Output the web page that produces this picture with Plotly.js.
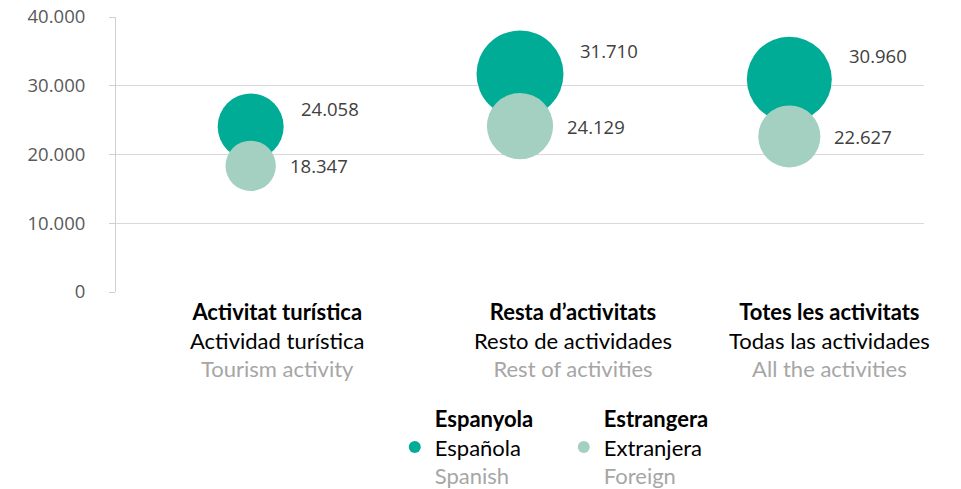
<!DOCTYPE html>
<html>
<head>
<meta charset="utf-8">
<script src="https://cdn.plot.ly/plotly-3.0.1.min.js"></script>
<style>
  html, body { margin: 0; padding: 0; background: #fff; }
  #chart { width: 961px; height: 489px; }
</style>
</head>
<body>
<div id="chart"></div>
<script>
// categories, three languages
var catCa = ["Activitat turística", "Resta d\u2019activitats", "Totes les activitats"];
var catEs = ["Actividad turística", "Resto de actividades", "Todas las actividades"];
var catEn = ["Tourism activity", "Rest of activities", "All the activities"];

// series
var spanish = [24058, 31710, 30960];
var foreign = [18347, 24129, 22627];

var seriesCa = ["Espanyola", "Estrangera"];
var seriesEs = ["Española", "Extranjera"];
var seriesEn = ["Spanish", "Foreign"];

var yTicks = [0, 10000, 20000, 30000, 40000];

// styling
var DARK = "rgb(0,172,150)";
var LIGHT = "rgb(164,208,193)";
var SIZEREF = 364.5;           // px diameter = value / SIZEREF
var labelShift = [26, 53, 40]; // category label offsets, px
var txtFont = "Lato, 'Noto Sans', sans-serif";
var numFont = "'Open Sans', 'Noto Sans', sans-serif";

function fmt(v) {
    return String(v).replace(/\B(?=(\d{3})+(?!\d))/g, ".");
}

function threeLines(a, b, c) {
    return '<b>' + a + '</b><br>' + b + '<br><span style="color:#a6a6a6">' + c + '</span>';
}

var xs = catCa.map(function (d, i) { return i; });

var traces = [
    {
        x: xs, y: spanish, type: 'scatter', mode: 'markers',
        name: threeLines(seriesCa[0], seriesEs[0], seriesEn[0]),
        marker: { size: spanish, sizemode: 'diameter', sizeref: SIZEREF, color: DARK, opacity: 1, line: { width: 0 } },
        hoverinfo: 'skip'
    },
    {
        x: xs, y: foreign, type: 'scatter', mode: 'markers',
        name: threeLines(seriesCa[1], seriesEs[1], seriesEn[1]),
        marker: { size: foreign, sizemode: 'diameter', sizeref: SIZEREF, color: LIGHT, opacity: 1, line: { width: 0 } },
        hoverinfo: 'skip'
    }
];

var annotations = [];

// value labels
spanish.forEach(function (v, i) {
    var r = v / SIZEREF / 2;
    annotations.push({
        x: i, y: v, xref: 'x', yref: 'y', text: fmt(v), showarrow: false,
        xanchor: 'left', yanchor: 'middle', xshift: r + 15, yshift: r * 0.55,
        font: { family: numFont, size: 18.5, color: '#404040' }
    });
});
foreign.forEach(function (v, i) {
    var r = v / SIZEREF / 2;
    annotations.push({
        x: i, y: v, xref: 'x', yref: 'y', text: fmt(v), showarrow: false,
        xanchor: 'left', yanchor: 'middle', xshift: r + 12, yshift: 0,
        font: { family: numFont, size: 18.5, color: '#404040' }
    });
});

// category labels
catCa.forEach(function (c, i) {
    annotations.push({
        x: i, y: 0, xref: 'x', yref: 'paper', showarrow: false,
        text: threeLines(c, catEs[i], catEn[i]),
        xanchor: 'center', yanchor: 'middle', xshift: labelShift[i], yshift: -48,
        font: { family: txtFont, size: 22, color: '#000' }
    });
});

var layout = {
    width: 961, height: 489,
    margin: { l: 116, r: 37, t: 17, b: 197, autoexpand: false },
    paper_bgcolor: '#fff', plot_bgcolor: '#fff',
    separators: ',.',
    showlegend: true,
    legend: {
        orientation: 'h', x: 0.345, xanchor: 'left',
        yref: 'container', y: 0.187, yanchor: 'top',
        font: { family: txtFont, size: 22, color: '#000' },
        itemsizing: 'constant', entrywidth: 124, valign: 'middle'
    },
    xaxis: {
        range: [-0.5, 2.5], showticklabels: false, showgrid: false,
        zeroline: false, showline: false, fixedrange: true
    },
    yaxis: {
        range: [0, 40000], tickvals: yTicks, tickformat: ',d',
        showgrid: true, gridcolor: '#d9d9d9', gridwidth: 1,
        zeroline: false, showline: true, linecolor: '#d0d0d0', linewidth: 1,
        ticks: 'outside', ticklen: 6, tickcolor: '#d0d0d0',
        ticklabelstandoff: 20,
        tickfont: { family: numFont, size: 18.5, color: '#595959' }
    },
    annotations: annotations
};

Plotly.newPlot('chart', traces, layout, { displayModeBar: false, staticPlot: true });
</script>
</body>
</html>
